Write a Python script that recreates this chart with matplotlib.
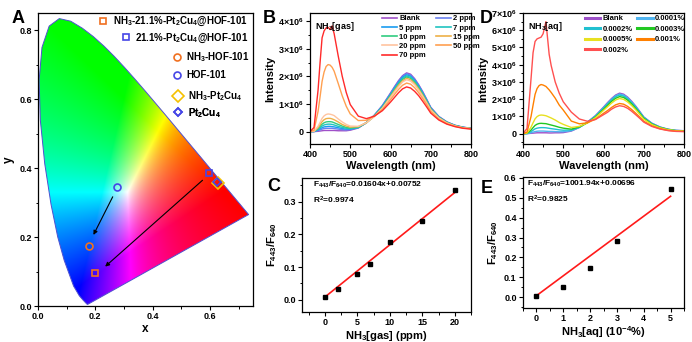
import numpy as np
import matplotlib
matplotlib.use('Agg')
import matplotlib.pyplot as plt
from matplotlib.path import Path
from matplotlib.patches import PathPatch
from matplotlib.lines import Line2D
from matplotlib.ticker import AutoMinorLocator, FixedLocator

plt.rcParams['font.family'] = ['Liberation Sans', 'DejaVu Sans']
plt.rcParams['font.weight'] = 'bold'
plt.rcParams['mathtext.fontset'] = 'custom'
plt.rcParams['mathtext.rm'] = 'Liberation Sans:bold'
plt.rcParams['mathtext.bf'] = 'Liberation Sans:bold'
plt.rcParams['mathtext.it'] = 'Liberation Sans:bold'
plt.rcParams['mathtext.default'] = 'bf'
plt.rcParams['axes.linewidth'] = 0.9

# ---- A: CIE 1931 spectral locus (380-700 nm) ----
locus_x = [0.1741, 0.1738, 0.1733, 0.1726, 0.1714, 0.1689, 0.1644, 0.1566, 0.1440, 0.1241,
           0.0913, 0.0687, 0.0454, 0.0235, 0.0082, 0.0039, 0.0139, 0.0389, 0.0743, 0.1142,
           0.1547, 0.1929, 0.2296, 0.2658, 0.3016, 0.3373, 0.3731, 0.4087, 0.4441, 0.4788,
           0.5125, 0.5448, 0.5752, 0.6029, 0.6270, 0.6482, 0.6658, 0.6801, 0.6915, 0.7006,
           0.7079, 0.7140, 0.7190, 0.7230, 0.7260, 0.7300, 0.7320, 0.7334, 0.7347]
locus_y = [0.0050, 0.0049, 0.0048, 0.0048, 0.0051, 0.0069, 0.0109, 0.0177, 0.0297, 0.0578,
           0.1327, 0.2007, 0.2950, 0.4127, 0.5384, 0.6548, 0.7502, 0.8120, 0.8338, 0.8262,
           0.8059, 0.7816, 0.7543, 0.7243, 0.6923, 0.6589, 0.6245, 0.5896, 0.5547, 0.5202,
           0.4866, 0.4544, 0.4242, 0.3965, 0.3725, 0.3514, 0.3340, 0.3197, 0.3083, 0.2993,
           0.2920, 0.2859, 0.2809, 0.2770, 0.2740, 0.2700, 0.2680, 0.2666, 0.2653]

cie_labels = ['NH$_3$-21.1%-Pt$_2$Cu$_4$@HOF-101', '21.1%-Pt$_2$Cu$_4$@HOF-101',
              'NH$_3$-HOF-101', 'HOF-101', 'NH$_3$-Pt$_2$Cu$_4$', 'Pt$_2$Cu$_4$']
cie_x = [0.198, 0.595, 0.177, 0.274, 0.627, 0.625]
cie_y = [0.097, 0.387, 0.175, 0.344, 0.358, 0.360]
cie_markers = ['s', 's', 'o', 'o', 'D', 'D']
cie_colors = ['#f07020', '#4646e6', '#f07020', '#4646e6', '#f5c000', '#4646e6']
cie_ms = [5, 5, 5, 5, 6.5, 4.5]
# arrows: start -> end
arrow_from = [(0.265, 0.324), (0.581, 0.370)]
arrow_to = [(0.189, 0.199), (0.227, 0.109)]

# ---- B: NH3 gas spectra (x1e6) ----
wl_b = [400, 410, 420, 425, 430, 435, 440, 445, 450, 455, 460, 470, 480, 490, 500, 520, 540,
        560, 580, 600, 610, 620, 630, 640, 650, 660, 670, 680, 690, 700, 720, 740, 760, 780, 800]
gas_labels = ['Blank', '2 ppm', '5 ppm', '7 ppm', '10 ppm', '15 ppm', '20 ppm', '50 ppm', '70 ppm']
gas_colors = ['#a050c8', '#6a80f0', '#1a9cf0', '#20c4c0', '#30cc80', '#eeb048', '#ffc4a0',
              '#ffa050', '#ff2a2a']
gas_spectra = [
    [0, 0, 0.01, 0.02, 0.03, 0.04, 0.04, 0.04, 0.04, 0.04, 0.04, 0.03, 0.03, 0.03, 0.05, 0.13,
     0.32, 0.60, 0.95, 1.40, 1.63, 1.85, 2.03, 2.13, 2.08, 1.92, 1.70, 1.45, 1.17, 0.88, 0.55,
     0.35, 0.23, 0.16, 0.12],
    [0, 0, 0.04, 0.06, 0.09, 0.11, 0.12, 0.12, 0.12, 0.12, 0.11, 0.09, 0.07, 0.06, 0.07, 0.14,
     0.33, 0.59, 0.94, 1.38, 1.61, 1.82, 2.01, 2.10, 2.05, 1.89, 1.68, 1.43, 1.15, 0.87, 0.54,
     0.35, 0.23, 0.16, 0.12],
    [0, 0, 0.06, 0.10, 0.14, 0.17, 0.18, 0.19, 0.19, 0.18, 0.17, 0.14, 0.11, 0.09, 0.09, 0.15,
     0.32, 0.59, 0.92, 1.35, 1.58, 1.79, 1.97, 2.06, 2.01, 1.86, 1.65, 1.40, 1.13, 0.85, 0.53,
     0.34, 0.22, 0.15, 0.12],
    [0, 0.01, 0.08, 0.14, 0.20, 0.24, 0.26, 0.27, 0.27, 0.26, 0.24, 0.19, 0.15, 0.12, 0.11, 0.15,
     0.32, 0.58, 0.90, 1.33, 1.55, 1.75, 1.93, 2.02, 1.97, 1.82, 1.62, 1.37, 1.11, 0.83, 0.52,
     0.33, 0.22, 0.15, 0.11],
    [0, 0.01, 0.11, 0.19, 0.27, 0.32, 0.35, 0.36, 0.36, 0.35, 0.32, 0.26, 0.20, 0.15, 0.13, 0.16,
     0.32, 0.57, 0.88, 1.30, 1.51, 1.72, 1.89, 1.98, 1.93, 1.79, 1.58, 1.35, 1.09, 0.82, 0.51,
     0.33, 0.21, 0.15, 0.11],
    [0, 0.01, 0.14, 0.25, 0.36, 0.43, 0.47, 0.48, 0.48, 0.46, 0.43, 0.35, 0.26, 0.20, 0.16, 0.18,
     0.32, 0.55, 0.86, 1.27, 1.48, 1.68, 1.84, 1.93, 1.88, 1.74, 1.54, 1.31, 1.06, 0.80, 0.50,
     0.32, 0.21, 0.14, 0.11],
    [0, 0.01, 0.19, 0.33, 0.48, 0.57, 0.62, 0.64, 0.63, 0.61, 0.58, 0.46, 0.35, 0.26, 0.20, 0.19,
     0.32, 0.55, 0.85, 1.24, 1.44, 1.63, 1.80, 1.88, 1.83, 1.70, 1.50, 1.28, 1.03, 0.78, 0.49,
     0.31, 0.20, 0.14, 0.11],
    [0, 0.05, 0.73, 1.26, 1.82, 2.16, 2.36, 2.43, 2.41, 2.33, 2.19, 1.75, 1.30, 0.92, 0.64, 0.40,
     0.41, 0.57, 0.80, 1.16, 1.35, 1.53, 1.68, 1.76, 1.72, 1.59, 1.41, 1.20, 0.97, 0.73, 0.45,
     0.29, 0.19, 0.13, 0.10],
    [0, 0.15, 1.50, 2.50, 3.40, 3.65, 3.76, 3.78, 3.70, 3.83, 3.55, 2.75, 2.01, 1.42, 0.98, 0.56,
     0.47, 0.56, 0.76, 1.07, 1.24, 1.41, 1.55, 1.62, 1.58, 1.46, 1.30, 1.10, 0.89, 0.67, 0.42,
     0.27, 0.18, 0.12, 0.09],
]

# ---- D: NH3 aqueous spectra (x1e6) ----
wl_d = [400, 410, 420, 425, 430, 435, 440, 445, 450, 457, 465, 470, 480, 490, 500, 520, 540,
        560, 580, 600, 610, 620, 630, 640, 650, 660, 670, 680, 690, 700, 720, 740, 760, 780, 800]
aq_labels = ['Blank', '0.0001%', '0.0002%', '0.0003%', '0.0005%', '0.001%', '0.002%']
aq_colors = ['#9c4fc8', '#50b4f0', '#20c0d0', '#22c822', '#e8e020', '#ff8000', '#ff5050']
aq_spectra = [
    [0, 0, 0.02, 0.03, 0.04, 0.05, 0.05, 0.05, 0.05, 0.05, 0.04, 0.04, 0.05, 0.05, 0.06, 0.15,
     0.36, 0.67, 1.05, 1.54, 1.80, 2.04, 2.24, 2.35, 2.29, 2.12, 1.88, 1.60, 1.29, 0.97, 0.61,
     0.39, 0.26, 0.19, 0.17],
    [0, 0, 0.05, 0.09, 0.12, 0.14, 0.15, 0.15, 0.15, 0.14, 0.13, 0.13, 0.12, 0.11, 0.11, 0.17,
     0.36, 0.66, 1.03, 1.51, 1.76, 2.00, 2.20, 2.30, 2.24, 2.08, 1.84, 1.57, 1.27, 0.95, 0.60,
     0.38, 0.25, 0.19, 0.17],
    [0, 0.01, 0.12, 0.20, 0.28, 0.32, 0.34, 0.35, 0.35, 0.34, 0.31, 0.29, 0.26, 0.22, 0.20, 0.21,
     0.37, 0.65, 1.00, 1.47, 1.71, 1.95, 2.14, 2.24, 2.18, 2.02, 1.79, 1.53, 1.23, 0.93, 0.58,
     0.37, 0.25, 0.18, 0.16],
    [0, 0.02, 0.21, 0.35, 0.48, 0.55, 0.59, 0.60, 0.59, 0.58, 0.53, 0.50, 0.44, 0.37, 0.32, 0.26,
     0.39, 0.63, 0.97, 1.41, 1.64, 1.87, 2.05, 2.15, 2.10, 1.94, 1.72, 1.46, 1.18, 0.89, 0.56,
     0.36, 0.24, 0.17, 0.16],
    [0, 0.03, 0.38, 0.63, 0.86, 0.99, 1.06, 1.08, 1.07, 1.04, 0.96, 0.91, 0.79, 0.65, 0.54, 0.36,
     0.42, 0.62, 0.93, 1.35, 1.56, 1.77, 1.95, 2.04, 1.99, 1.84, 1.63, 1.39, 1.12, 0.84, 0.53,
     0.34, 0.23, 0.17, 0.15],
    [0, 0.09, 1.00, 1.65, 2.28, 2.62, 2.79, 2.85, 2.82, 2.74, 2.54, 2.39, 2.06, 1.66, 1.37, 0.73,
     0.57, 0.63, 0.84, 1.18, 1.34, 1.52, 1.67, 1.75, 1.71, 1.58, 1.40, 1.19, 0.96, 0.72, 0.45,
     0.29, 0.19, 0.14, 0.13],
    [0, 0.30, 3.20, 4.70, 5.35, 5.50, 5.55, 5.60, 5.80, 6.50, 4.60, 3.95, 3.00, 2.35, 1.85, 1.25,
     0.85, 0.72, 0.82, 1.10, 1.24, 1.42, 1.55, 1.62, 1.58, 1.47, 1.30, 1.10, 0.89, 0.67, 0.42,
     0.27, 0.18, 0.13, 0.12],
]

# ---- C / E: calibration ----
c_x = [0, 2, 5, 7, 10, 15, 20]
c_y = [0.0072, 0.034, 0.079, 0.108, 0.176, 0.240, 0.336]
c_fit = (0.01604, 0.00752)
e_x = [0, 1, 2, 3, 5]
e_y = [0.005, 0.050, 0.148, 0.284, 0.543]
e_fit = (1001.94, 0.00696)   # x in %, axis in 1e-4 %

b_ticks = [0, 1, 2, 3, 4]
b_ticklabels = ['0', '1×10$^6$', '2×10$^6$', '3×10$^6$', '4×10$^6$']
d_ticks = [0, 1, 2, 3, 4, 5, 6, 7]
d_ticklabels = ['0', '1×10$^6$', '2×10$^6$', '3×10$^6$', '4×10$^6$', '5×10$^6$',
                '6×10$^6$', '7×10$^6$']


def style(ax):
    ax.tick_params(direction='out', length=3, width=0.8, labelsize=6.5, pad=1.5)
    ax.tick_params(which='minor', direction='out', length=1.8, width=0.7)
    ax.xaxis.set_minor_locator(AutoMinorLocator(2))
    ax.yaxis.set_minor_locator(AutoMinorLocator(2))


W, H = 692, 342
def box(l, t, r, b):
    return [l / W, 1 - b / H, (r - l) / W, (b - t) / H]


fig = plt.figure(figsize=(6.92, 3.42), dpi=100)

# ================= A =================
axA = fig.add_axes(box(38, 13, 253, 306))
nx, ny = 500, 560
gx = np.linspace(0, 0.75, nx)
gy = np.linspace(0.002, 0.85, ny)
GX, GY = np.meshgrid(gx, gy)
XYZ = np.stack([GX / GY, np.ones_like(GX), (1 - GX - GY) / GY], axis=-1)
M = np.array([[3.2406, -1.5372, -0.4986], [-0.9689, 1.8758, 0.0415], [0.0557, -0.2040, 1.0570]])
rgb = np.clip(XYZ @ M.T, 0, None)
rgb = rgb / (rgb.max(axis=-1, keepdims=True) + 1e-9)
rgb = rgb ** 0.85
im = axA.imshow(np.clip(rgb, 0, 1), origin='lower', extent=(0, 0.75, 0.002, 0.85),
                aspect='auto', interpolation='bilinear', zorder=1)
patch = PathPatch(Path(np.column_stack([locus_x + [locus_x[0]], locus_y + [locus_y[0]]])),
                  facecolor='none', edgecolor='#5050d0', lw=0.7, zorder=2)
axA.add_patch(patch)
im.set_clip_path(patch)

for (x0, y0), (x1, y1) in zip(arrow_from, arrow_to):
    axA.annotate('', xy=(x1, y1), xytext=(x0, y0),
                 arrowprops=dict(arrowstyle='-|>', color='k', lw=0.8, mutation_scale=6), zorder=4)
for x, y, mk, col, ms in zip(cie_x, cie_y, cie_markers, cie_colors, cie_ms):
    axA.plot(x, y, ls='none', marker=mk, mfc='none', mec=col, mew=1.2, ms=ms, zorder=5)

# one-entry legends placed like Origin text labels
leg_pos = [(0.281, 0.970), (0.386, 0.914), (0.625, 0.849), (0.625, 0.788), (0.630, 0.717), (0.630, 0.660)]
for lab, mk, col, ms, pos in zip(cie_labels, cie_markers, cie_colors, cie_ms, leg_pos):
    h = Line2D([], [], ls='none', marker=mk, mfc='none', mec=col, mew=1.2, ms=ms)
    lg = axA.legend([h], [lab], loc='center left', bbox_to_anchor=pos, frameon=False,
                    fontsize=7, handlelength=1.0, handletextpad=0.45, borderpad=0, borderaxespad=0)
    axA.add_artist(lg)

axA.set_xlim(0, 0.75)
axA.set_ylim(0, 0.85)
axA.set_xticks([0.0, 0.2, 0.4, 0.6])
axA.set_yticks([0.0, 0.2, 0.4, 0.6, 0.8])
axA.xaxis.set_major_formatter(plt.FormatStrFormatter('%.1f'))
axA.yaxis.set_major_formatter(plt.FormatStrFormatter('%.1f'))
style(axA)
axA.set_xlabel('x', fontsize=8.5, fontweight='bold', labelpad=1)
axA.set_ylabel('y', fontsize=8.5, fontweight='bold', labelpad=3)


def spectra_panel(ax, wl, spectra, labels, colors, ticks, ticklabels, ylim, title, order,
                  colsp, leg_anchor, leg_lw, lsp):
    for s, lab, col in zip(spectra, labels, colors):
        ax.plot(wl, s, color=col, lw=1.0, label=lab)
    hs, ls = ax.get_legend_handles_labels()
    hs = [Line2D([], [], color=hs[i].get_color(), lw=leg_lw) for i in order]
    ls = [ls[i] for i in order]
    ax.legend(hs, ls, ncol=2, loc='upper left', bbox_to_anchor=leg_anchor, frameon=False,
              fontsize=5.5, handlelength=2.0, handletextpad=0.3, columnspacing=colsp,
              labelspacing=lsp, borderpad=0, borderaxespad=0)
    ax.text(0.03, 0.95, title, transform=ax.transAxes, fontsize=6.5, fontweight='bold',
            ha='left', va='top')
    ax.set_xlim(400, 800)
    ax.set_ylim(*ylim)
    ax.set_xticks([400, 500, 600, 700, 800])
    ax.yaxis.set_major_locator(FixedLocator(ticks))
    ax.set_yticklabels(ticklabels)
    style(ax)
    ax.set_xlabel('Wavelength (nm)', fontsize=8, fontweight='bold', labelpad=1)
    ax.set_ylabel('Intensity', fontsize=8, fontweight='bold', labelpad=2)


# ================= B =================
axB = fig.add_axes(box(310, 13, 471, 144))
spectra_panel(axB, wl_b, gas_spectra, gas_labels, gas_colors, b_ticks, b_ticklabels,
              (-0.45, 4.3), 'NH$_3$[gas]', [0, 2, 4, 6, 8, 1, 3, 5, 7], 1.3, (0.445, 0.985),
              1.2, 0.25)

# ================= D =================
axD = fig.add_axes(box(523, 13, 684, 144))
spectra_panel(axD, wl_d, aq_spectra, aq_labels, aq_colors, d_ticks, d_ticklabels,
              (-0.6, 7.0), 'NH$_3$[aq]', [0, 2, 4, 6, 1, 3, 5], 0.6, (0.385, 0.985),
              2.2, 0.42)


def calib_panel(ax, x, y, fit, scale, xlabel, eq, r2, xlim, ylim, xticks, yticks, tx):
    xx = np.array([x[0], x[-1]], dtype=float)
    ax.plot(xx, fit[0] * xx * scale + fit[1], color='#ff1a1a', lw=1.2, zorder=2)
    ax.plot(x, y, ls='none', marker='s', color='k', ms=2.8, zorder=3)
    ax.text(tx, 0.945, eq, transform=ax.transAxes, fontsize=6, ha='left', va='center')
    ax.text(tx, 0.83, r2, transform=ax.transAxes, fontsize=6, ha='left', va='center')
    ax.set_xlim(*xlim)
    ax.set_ylim(*ylim)
    ax.set_xticks(xticks)
    ax.set_yticks(yticks)
    ax.yaxis.set_major_formatter(plt.FormatStrFormatter('%.1f'))
    style(ax)
    ax.set_xlabel(xlabel, fontsize=8, fontweight='bold', labelpad=1)
    ax.set_ylabel('F$_{443}$/F$_{640}$', fontsize=8, fontweight='bold', labelpad=3)


# ================= C =================
axC = fig.add_axes(box(302, 178, 471, 312))
calib_panel(axC, c_x, c_y, c_fit, 1.0, 'NH$_3$[gas] (ppm)',
            'F$_{443}$/F$_{640}$=0.01604x+0.00752', 'R$^2$=0.9974',
            (-3.5, 22.5), (-0.038, 0.373), [0, 5, 10, 15, 20], [0.0, 0.1, 0.2, 0.3], 0.067)

# ================= E =================
axE = fig.add_axes(box(523, 177, 684, 308))
calib_panel(axE, e_x, e_y, e_fit, 1e-4, 'NH$_3$[aq] (10$^{-4}$%)',
            'F$_{443}$/F$_{640}$=1001.94x+0.00696', 'R$^2$=0.9825',
            (-0.5, 5.5), (-0.055, 0.605), [0, 1, 2, 3, 4, 5],
            [0.0, 0.1, 0.2, 0.3, 0.4, 0.5, 0.6], 0.023)

# panel letters
for lt, (px, py) in zip('ABCDE', [(12, 10), (263, 10), (267, 178), (480, 10), (481, 180)]):
    fig.text(px / W, 1 - py / H, lt, fontsize=13, fontweight='bold', ha='left', va='top')

fig.savefig('out.png', dpi=100)
